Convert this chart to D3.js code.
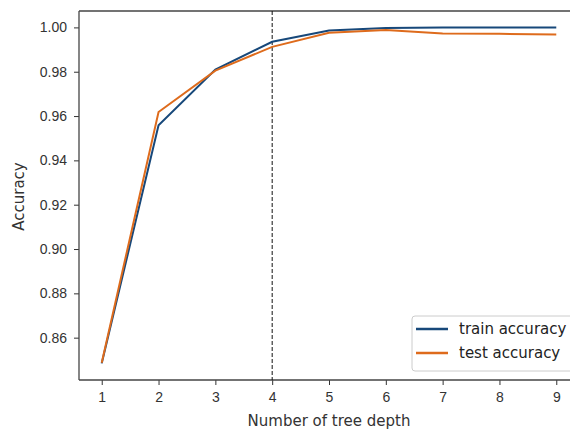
<!DOCTYPE html>
<html>
<head>
<meta charset="utf-8">
<script src="https://cdnjs.cloudflare.com/ajax/libs/d3/7.8.5/d3.min.js"></script>
<style>
  body { margin: 0; background: #fff; overflow: hidden; }
  #chart { width: 570px; height: 429px; overflow: hidden; }
  svg { display: block; overflow: hidden; font-family: "DejaVu Sans", sans-serif; }
  .tick text { fill: #333; font-size: 14px; }
</style>
</head>
<body>
<div id="chart"></div>
<script>
// tree depth vs accuracy
var depths = [1, 2, 3, 4, 5, 6, 7, 8, 9];
var trainAcc = [0.8484, 0.9558, 0.9810, 0.9935, 0.9986, 0.9997, 0.9999, 1.0000, 1.0000];
var testAcc  = [0.8487, 0.9618, 0.9805, 0.9912, 0.9976, 0.9988, 0.9972, 0.9971, 0.9968];
var yTicks = [0.86, 0.88, 0.90, 0.92, 0.94, 0.96, 0.98, 1.00];
var bestDepth = 4;

var W = 570, H = 429;
var margin = {top: 11, right: -9, bottom: 49, left: 79};
var width = W - margin.left - margin.right,
    height = H - margin.top - margin.bottom;

var svg = d3.select("#chart").append("svg")
  .attr("width", W).attr("height", H);
var g = svg.append("g")
  .attr("transform", "translate(" + margin.left + "," + margin.top + ")");

var x = d3.scaleLinear().domain([0.6, 9.4]).range([0, width]);
var y = d3.scaleLinear().domain([0.8409, 1.0074]).range([height, 0]);

// axes
var xAxis = g.append("g")
  .attr("transform", "translate(0," + height + ")")
  .call(d3.axisBottom(x).tickValues(depths).tickFormat(d3.format("d")).tickSize(5).tickPadding(7));
var yAxis = g.append("g")
  .call(d3.axisLeft(y).tickValues(yTicks).tickFormat(d3.format(".2f")).tickSize(5).tickPadding(7));
xAxis.select(".domain").remove();
yAxis.select(".domain").remove();
g.selectAll(".tick line").attr("stroke", "#333");

// spines: left, bottom, top (the right one is past the picture edge)
var spine = [[0, 0, 0, height], [0, height, W - margin.left, height], [0, 0, W - margin.left, 0]];
spine.forEach(function(s) {
  g.append("line")
    .attr("x1", s[0]).attr("y1", s[1]).attr("x2", s[2]).attr("y2", s[3])
    .attr("stroke", "#444").attr("stroke-width", 1.3);
});

// dashed line at chosen depth
g.append("line")
  .attr("x1", x(bestDepth)).attr("x2", x(bestDepth))
  .attr("y1", 0).attr("y2", height)
  .attr("stroke", "#111").attr("stroke-width", 1)
  .attr("stroke-dasharray", "4,2");

var line = function(vals) {
  return d3.line()
    .x(function(d, i) { return x(depths[i]); })
    .y(function(d) { return y(d); })(vals);
};

var series = [
  {name: "train accuracy", vals: trainAcc, color: "#17487a"},
  {name: "test accuracy", vals: testAcc, color: "#de6b1c"}
];

series.forEach(function(s) {
  g.append("path")
    .attr("d", line(s.vals))
    .attr("fill", "none")
    .attr("stroke", s.color)
    .attr("stroke-width", 2);
});

// labels
svg.append("text")
  .attr("x", margin.left + 250).attr("y", 426)
  .attr("text-anchor", "middle").attr("font-size", 15).attr("fill", "#333")
  .text("Number of tree depth");
svg.append("text")
  .attr("transform", "translate(24," + (margin.top + height / 2 + 1) + ") rotate(-90)")
  .attr("text-anchor", "middle").attr("font-size", 15).attr("fill", "#333")
  .text("Accuracy");

// legend (runs off the right edge like the spine)
var leg = svg.append("g").attr("transform", "translate(412,316)");
leg.append("path")
  .attr("d", "M" + (W - 412 + 2) + ",0H3A3,3 0 0 0 0,3V52A3,3 0 0 0 3,55H" + (W - 412 + 2))
  .attr("fill", "#fff").attr("fill-opacity", 0.8)
  .attr("stroke", "#ccc");
series.forEach(function(s, i) {
  var yy = 13 + i * 24;
  leg.append("line")
    .attr("x1", 4).attr("x2", 36).attr("y1", yy).attr("y2", yy)
    .attr("stroke", s.color).attr("stroke-width", 2.5);
  leg.append("text")
    .attr("x", 47).attr("y", yy + 5)
    .attr("font-size", 15).attr("fill", "#222")
    .text(s.name);
});
</script>
</body>
</html>
